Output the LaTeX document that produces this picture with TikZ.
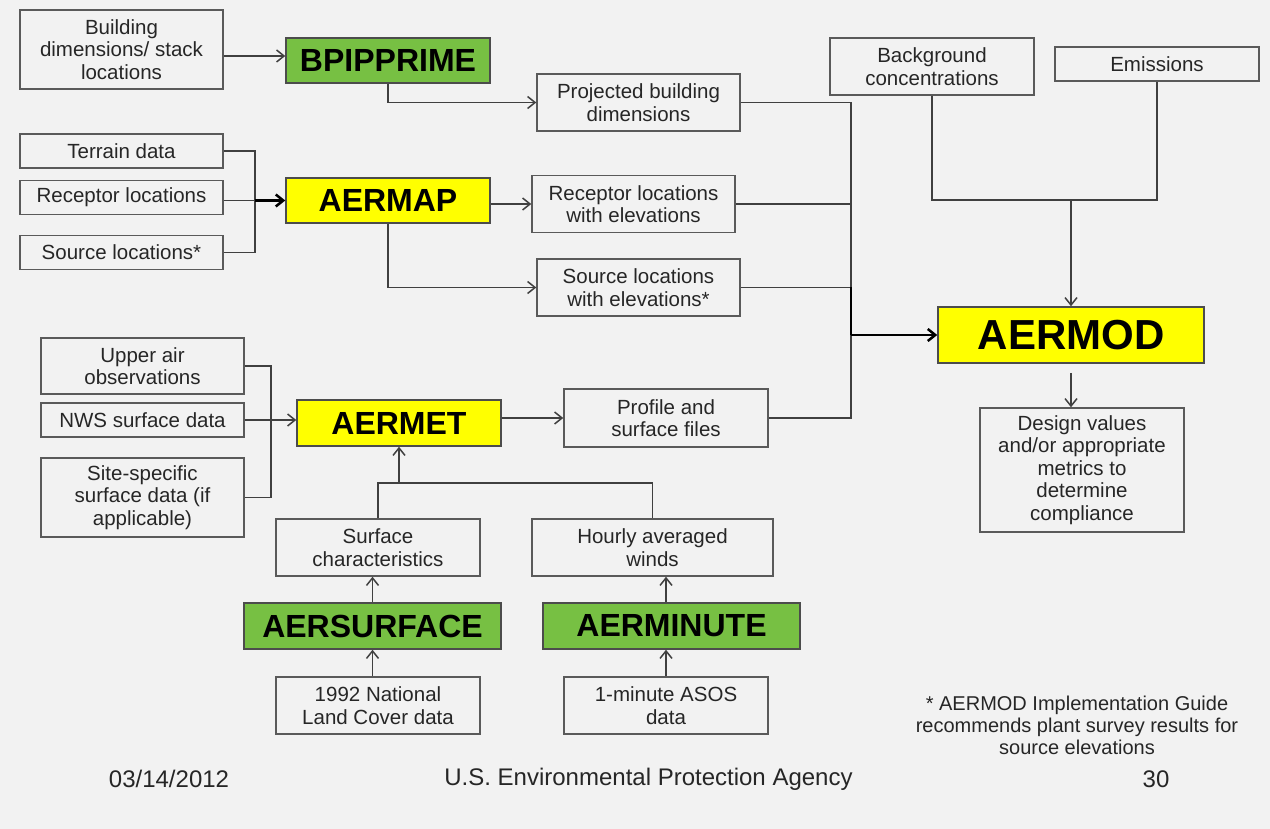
\documentclass[tikz,border=0pt]{standalone}
\usepackage{fontspec}
\setmainfont{Liberation Sans}
\usetikzlibrary{arrows.meta}
\definecolor{bgpage}{HTML}{F2F2F2}
\definecolor{boxline}{HTML}{5A5A5A}
\definecolor{proggreen}{HTML}{77C043}
\definecolor{progyellow}{HTML}{FFFF00}
\begin{document}
\begin{tikzpicture}[x=1pt,y=-1pt,
      >={Straight Barb[length=7.5pt,width=12pt]},
      box/.style={draw=boxline,line width=1.5pt,align=center,inner sep=0pt,
        text=black!85,font=\fontsize{20.5}{22.5}\selectfont},
      data/.style={box,minimum width=203pt},
      prog/.style={box,draw=black!70,text=black,minimum height=45pt,
        font=\fontsize{32}{36}\selectfont\bfseries},
      link/.style={draw=black!75,line width=1.5pt},
      heavy/.style={link,draw=black,line width=2.5pt},
      foot/.style={text=black!85,align=center}]

    % --- Latar halaman ------------------------------------------------------
    \fill[bgpage] (0,0) rectangle (1270,829);
    \useasboundingbox (0,0) rectangle (1270,829);

    % --- Cabang BPIPPRIME -----------------------------------------------------
    \node[data,minimum height=79pt] (bld) at (121.5,49.5)
      {Building\\dimensions/ stack\\locations};
    \node[prog,fill=proggreen,minimum width=204pt] (bpip) at (388,60.5) {BPIPPRIME};
    \node[data,minimum height=57pt] (proj) at (638.5,102.5)
      {Projected building\\dimensions};

    % --- Masukan langsung ke AERMOD ------------------------------------------
    \node[data,minimum width=204pt,minimum height=57pt] (bg) at (932,66.5)
      {Background\\concentrations};
    \node[data,minimum width=204pt,minimum height=34pt] (emis) at (1157,64) {Emissions};

    % --- Cabang AERMAP --------------------------------------------------------
    \node[data,minimum height=34pt] (terr) at (121.5,151) {Terrain data};
    \node[data,minimum height=34pt] (rec) at (121.5,197.5) {Receptor locations};
    \node[data,minimum height=34pt] (src) at (121.5,252.5) {Source locations*};
    \node[prog,fill=progyellow,minimum width=204pt] (aermap) at (388,200.5) {AERMAP};
    \node[data,minimum height=57pt] (recel) at (633.5,204)
      {Receptor locations\\with elevations};
    \node[data,minimum height=57pt] (srcel) at (638.5,287.5)
      {Source locations\\with elevations*};

    % --- AERMOD dan keluarannya ----------------------------------------------
    \node[prog,fill=progyellow,minimum width=266pt,minimum height=56pt,
      font=\fontsize{42}{46}\selectfont\bfseries] (aermod) at (1071,335) {AERMOD};
    \node[data,minimum width=204pt,minimum height=124pt] (design) at (1082,470)
      {Design values\\and/or appropriate\\metrics to\\determine\\compliance};

    % --- Cabang AERMET --------------------------------------------------------
    \node[data,minimum height=56pt] (upper) at (142.5,366) {Upper air\\observations};
    \node[data,minimum height=34pt] (nws) at (142.5,420) {NWS surface data};
    \node[data,minimum height=79pt] (site) at (142.5,497.5)
      {Site-specific\\surface data (if\\applicable)};
    \node[prog,fill=progyellow,minimum width=204pt,minimum height=46pt] (aermet)
      at (399,423) {AERMET};
    \node[data,minimum width=204pt,minimum height=58pt] (prof) at (666,418)
      {Profile and\\surface files};

    % --- Praproses untuk AERMET ----------------------------------------------
    \node[data,minimum width=204pt,minimum height=57pt] (surf) at (378,547.5)
      {Surface\\characteristics};
    \node[data,minimum width=241pt,minimum height=57pt] (hourly) at (652.5,547.5)
      {Hourly averaged\\winds};
    \node[prog,fill=proggreen,minimum width=257pt,minimum height=46pt] (aersurf)
      at (372.5,626) {AERSURFACE};
    \node[prog,fill=proggreen,minimum width=257pt,minimum height=46pt] (aermin)
      at (671.5,626) {AERMINUTE};
    \node[data,minimum width=204pt,minimum height=57pt] (nlcd) at (378,705.5)
      {1992 National\\Land Cover data};
    \node[data,minimum width=204pt,minimum height=57pt] (asos) at (666,705.5)
      {1-minute ASOS\\data};

    % --- Catatan kaki dan baris bawah ----------------------------------------
    \node[foot,font=\fontsize{20}{22}\selectfont] (note) at (1077,725)
      {* AERMOD Implementation Guide\\recommends plant survey results for\\source elevations};
    \node[foot,font=\fontsize{24}{28}\selectfont] (date) at (169,779) {03/14/2012};
    \node[foot,font=\fontsize{24}{28}\selectfont] (epa) at (648.5,779)
      {U.S. Environmental Protection Agency};
    \node[foot,font=\fontsize{24}{28}\selectfont] (page) at (1156,779) {30};

    % --- Panah ----------------------------------------------------------------
    \draw[link,->] ([yshift=-6.5pt]bld.east) -- ([yshift=4.5pt]bpip.west);
    \draw[link,->] (bpip.south) |- (proj.west);
    % Tiga masukan AERMAP bertemu di satu sambungan.
    \coordinate (jmap) at (255,200.5);
    \draw[link] (terr.east) -| (jmap) |- (src.east);
    \draw[link] (rec.east |- jmap) -- (jmap);
    \draw[heavy,->] (jmap) -- (aermap.west);
    \draw[link,->] (aermap.east |- recel.west) -- (recel.west);
    \draw[link,->] (aermap.south) |- (srcel.west);
    % Semua berkas olahan dikumpulkan ke AERMOD.
    \coordinate (jmod) at (851,335);
    \draw[link] (proj.east) -| (jmod);
    \draw[link] (recel.east) -| (jmod);
    \draw[link] (prof.east) -| (jmod);
    \draw[link] (srcel.east) -- (srcel.east -| jmod);
    \draw[heavy] (srcel.east -| jmod) -- (jmod);
    \draw[heavy,->] (jmod) -- (aermod.west);
    \coordinate (jbg) at (1071,200);
    \draw[link] (bg.south) |- (jbg) -| (emis.south);
    \draw[link,->] (jbg) -- (aermod.north);
    \draw[link,->] ([yshift=-9pt]aermod.south) -- (aermod.south |- design.north);
    % Masukan meteorologi ke AERMET.
    \coordinate (jmet) at (271,420);
    \draw[link] (upper.east) -| (jmet) |- (site.east);
    \draw[link,->] (nws.east) -- (nws.east -| aermet.west);
    \draw[link,->] (aermet.east |- prof.west) -- (prof.west);
    \coordinate (jsurf) at (399,483);
    \draw[link] (surf.north) |- (jsurf) -| (hourly.north);
    \draw[link,->] (jsurf) -- (aermet.south);
    \draw[link,->] (aersurf.north) -- (aersurf.north |- surf.south);
    \draw[link,->] (nlcd.north -| aersurf.north) -- (aersurf.south);
    \draw[link,->] (aermin.north -| asos.north) -- (asos.north |- hourly.south);
    \draw[link,->] (asos.north) -- (asos.north |- aermin.south);
  \end{tikzpicture}
\end{document}
